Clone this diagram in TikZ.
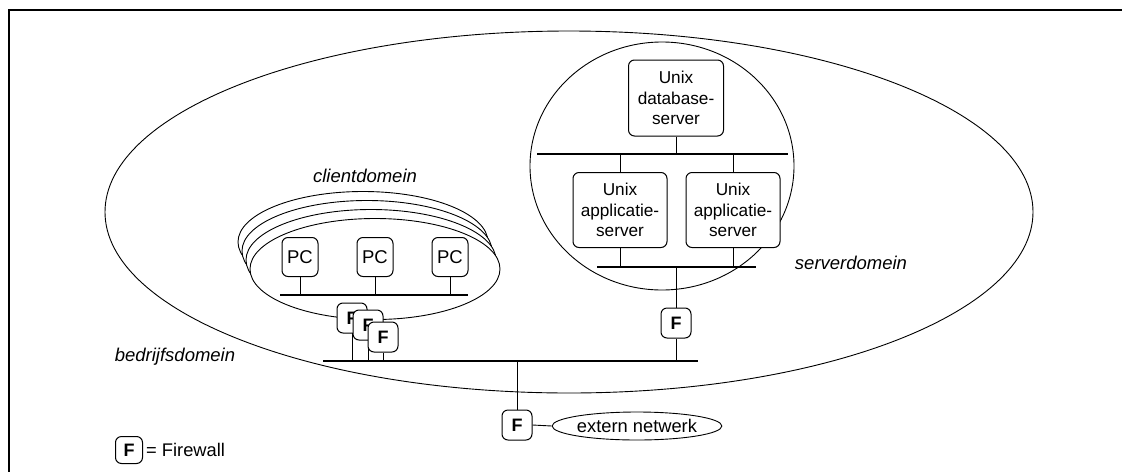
\documentclass[tikz,border=0pt]{standalone}
\usepackage{fontspec}
\setmainfont{Liberation Sans}
\usetikzlibrary{shapes.geometric}
\begin{document}
\begin{tikzpicture}[x=1pt,y=-1pt,
  linkline/.style={line width=0.9pt},
  busline/.style={line width=2.2pt},
  domainshape/.style={draw,ellipse,line width=0.9pt,inner sep=0pt},
  hostbox/.style={draw,fill=white,rounded corners=6pt,line width=1pt,
    align=center,inner sep=0pt,font=\fontsize{17.2}{20.5}\selectfont},
  fwbox/.style={draw,fill=white,rounded corners=6pt,line width=1pt,
    inner sep=0pt,minimum width=30pt,minimum height=30pt,
    font=\fontsize{18}{20}\selectfont\bfseries},
  domlabel/.style={font=\fontsize{18.5}{20}\selectfont\itshape,inner sep=0pt}]
\useasboundingbox (0,0) rectangle (1122,472);

% page frame
\draw[line width=1.4pt] (1122,10) -- (9,10) -- (9,472);

% company domain
\node[domainshape,minimum width=928pt,minimum height=362pt] (company) at (569,212) {};
\node[domlabel] (companylbl) at (175,357) {bedrijfsdomein};

% server domain
\node[domainshape,minimum width=264pt,minimum height=248pt] (serverdom) at (662,166) {};
\node[domlabel] (serverlbl) at (851,263) {serverdomein};

% client domains, stacked back to front
\foreach \k in {3,2,1,0}{
  \node[domainshape,fill=white,minimum width=250pt,minimum height=101pt]
    (client\k) at ({375-4*\k},{269-9*\k}) {};
}
\node[domlabel] (clientlbl) at (365,176) {clientdomein};

% bus coordinates
\coordinate (dbbusL) at (537,154);
\coordinate (dbbusR) at (788,154);
\coordinate (appbusL) at (597,267);
\coordinate (appbusR) at (756,267);
\coordinate (mainbusL) at (323,361);
\coordinate (mainbusR) at (698,361);
\coordinate (cbusL) at (280,295);
\coordinate (cbusR) at (468,295);

% servers
\node[hostbox,minimum width=95pt,minimum height=76pt] (db) at (676,98)
  {Unix\\database-\\server};
\node[hostbox,minimum width=94pt,minimum height=75pt] (app1) at (620,210)
  {Unix\\applicatie-\\server};
\node[hostbox,minimum width=94pt,minimum height=75pt] (app2) at (733,210)
  {Unix\\applicatie-\\server};

% client PCs
\foreach \i/\x in {1/300,2/375,3/450}{
  \node[hostbox,minimum width=36pt,minimum height=39pt,
    font=\fontsize{18.5}{20}\selectfont] (pc\i) at (\x,257) {PC};
}

% firewalls
\node[fwbox] (fws) at (676,323) {F};
\node[fwbox] (fwext) at (517,425) {F};
\node[draw,ellipse,line width=0.9pt,minimum width=150pt,minimum height=28pt,
  inner sep=0pt,font=\fontsize{18.3}{20}\selectfont] (extern) at (637,426)
  {extern netwerk};

% client firewalls with their uplinks
\coordinate (fwc1pos) at (352,318);
\coordinate (fwc2pos) at (368,325);
\coordinate (fwc3pos) at (383,337);
\draw[linkline] (fwc1pos) -- (fwc1pos |- mainbusL);
\node[fwbox] (fwc1) at (fwc1pos) {F};
\draw[linkline] (fwc2pos) -- (fwc2pos |- mainbusL);
\node[fwbox] (fwc2) at (fwc2pos) {F};
\node[fwbox] (fwc3) at (fwc3pos) {F};
\draw[linkline] (fwc3.south) -- (fwc3.south |- mainbusL);

% buses
\draw[busline] (dbbusL) -- (dbbusR);
\draw[busline] (appbusL) -- (appbusR);
\draw[busline] (mainbusL) -- (mainbusR);
\draw[busline] (cbusL) -- (cbusR);

% links
\draw[linkline] (db.south) -- (db.south |- dbbusL);
\draw[linkline] (app1.north) -- (app1.north |- dbbusL);
\draw[linkline] (app2.north) -- (app2.north |- dbbusL);
\draw[linkline] (app1.south) -- (app1.south |- appbusL);
\draw[linkline] (app2.south) -- (app2.south |- appbusL);
\draw[linkline] (fws.north) -- (fws.north |- appbusL);
\draw[linkline] (fws.south) -- (fws.south |- mainbusL);
\foreach \i in {1,2,3}{
  \draw[linkline] (pc\i.south) -- (pc\i.south |- cbusL);
}
\draw[linkline] (fwext.north) -- (fwext.north |- mainbusL);
\draw[linkline] (fwext.east) -- (extern.west);

% legend
\node[fwbox,minimum width=27pt,minimum height=27pt] (legendfw) at (129,450) {F};
\node[anchor=west,inner sep=0pt,font=\fontsize{18.3}{20}\selectfont]
  (legendtxt) at ([xshift=3pt]legendfw.east) {= Firewall};
\end{tikzpicture}
\end{document}
